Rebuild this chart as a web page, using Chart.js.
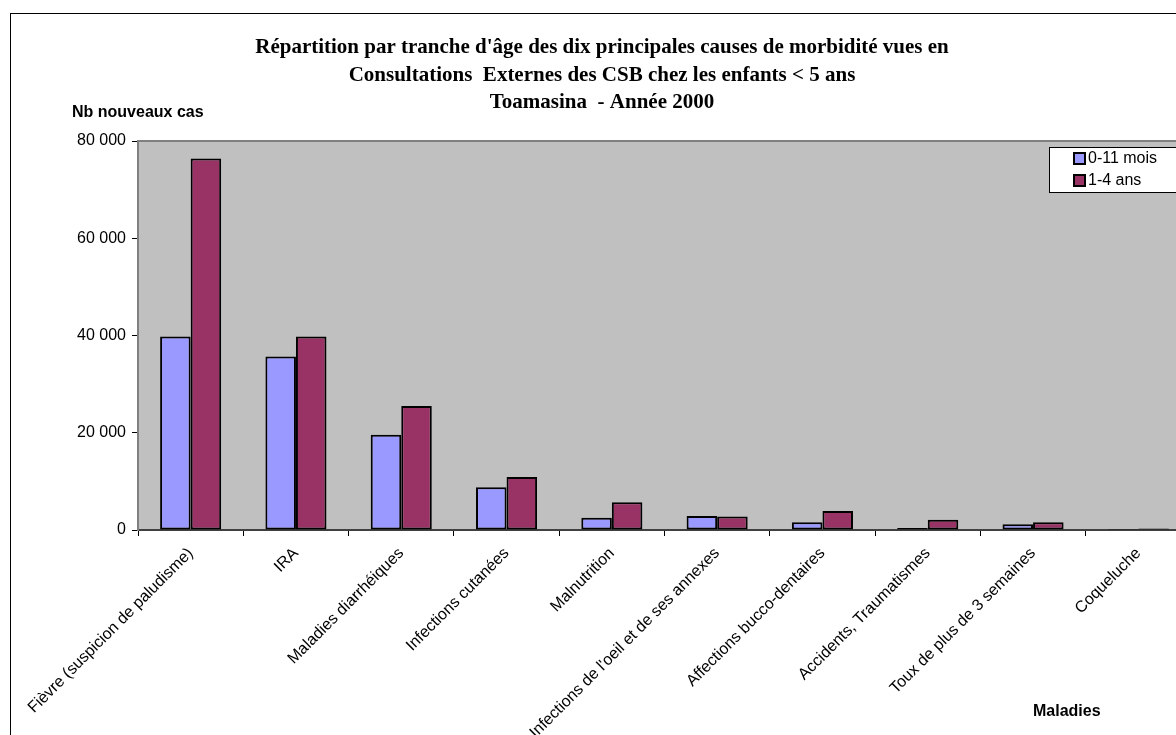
<!DOCTYPE html>
<html lang="fr">
<head>
<meta charset="utf-8">
<title>Morbidité des enfants &lt; 5 ans - Toamasina 2000</title>
<script src="https://cdn.jsdelivr.net/npm/chart.js@4.4.1/dist/chart.umd.min.js"></script>
<style>
    html, body { margin: 0; padding: 0; background: #fff; overflow: hidden; }
    #wrap { position: relative; width: 1200px; height: 735px; }
</style>
</head>
<body>
<div id="wrap"><canvas id="morbiditeChart" width="1200" height="735"></canvas></div>
<script>
// Données
const categories = [
    'Fièvre (suspicion de paludisme)',
    'IRA',
    'Maladies diarrhéiques',
    'Infections cutanées',
    'Malnutrition',
    "Infections de l'oeil et de ses annexes",
    'Affections bucco-dentaires',
    'Accidents, Traumatismes',
    'Toux de plus de 3 semaines',
    'Coqueluche'
];
const cas0a11mois = [39800, 35700, 19600, 8800, 2500, 2900, 1600, 400, 1200, 200];
const cas1a4ans = [76400, 39800, 25500, 10900, 5700, 2800, 3900, 2100, 1600, 300];
const yTicks = [0, 20000, 40000, 60000, 80000];

const titleLines = [
    "Répartition par tranche d'âge des dix principales causes de morbidité vues en",
    'Consultations  Externes des CSB chez les enfants < 5 ans',
    'Toamasina  - Année 2000'
];
const yAxisTitle = 'Nb nouveaux cas';
const xAxisTitle = 'Maladies';

const SANS = '"Liberation Sans", Arial, sans-serif';
const SERIF = '"Liberation Serif", "Times New Roman", serif';

Chart.defaults.font.family = SANS;
Chart.defaults.color = '#000';

function formatMilliers(v) {
    return String(v).replace(/\B(?=(\d{3})+(?!\d))/g, ' ');
}

// Fond gris, cadre, titres et légende façon Excel
const decorPlugin = {
    id: 'decor',
    beforeDraw(chart) {
        const { ctx, chartArea: a } = chart;
        ctx.save();
        ctx.fillStyle = '#fff';
        ctx.fillRect(0, 0, chart.width, chart.height);
        ctx.strokeStyle = '#000';
        ctx.lineWidth = 1;
        ctx.strokeRect(10.5, 13.5, chart.width, chart.height);
        ctx.fillStyle = '#c0c0c0';
        ctx.fillRect(a.left, a.top, a.right - a.left, a.bottom - a.top);
        ctx.strokeStyle = '#808080';
        ctx.lineWidth = 2;
        ctx.beginPath();
        ctx.moveTo(a.left, a.top);
        ctx.lineTo(a.right, a.top);
        ctx.stroke();
        ctx.restore();
    },
    afterDraw(chart) {
        const { ctx, chartArea: a } = chart;
        ctx.save();

        // titre
        ctx.fillStyle = '#000';
        ctx.font = 'bold 21px ' + SERIF;
        ctx.textAlign = 'center';
        ctx.textBaseline = 'middle';
        titleLines.forEach((line, i) => ctx.fillText(line, 602, 48 + i * 27.5));

        // titres des axes
        ctx.font = 'bold 16px ' + SANS;
        ctx.textAlign = 'left';
        ctx.fillText(yAxisTitle, 72, 113);
        ctx.fillText(xAxisTitle, 1033, 712);

        // légende
        const lx = a.right - 142, ly = a.top + 6;
        ctx.fillStyle = '#fff';
        ctx.fillRect(lx, ly, 160, 45);
        ctx.strokeStyle = '#000';
        ctx.lineWidth = 1;
        ctx.strokeRect(lx + 0.5, ly + 0.5, 160, 45);
        ctx.font = '16px ' + SANS;
        chart.data.datasets.forEach((ds, i) => {
            const cy = ly + 11 + i * 22;
            ctx.fillStyle = ds.backgroundColor;
            ctx.fillRect(lx + 25, cy - 5, 11, 11);
            ctx.lineWidth = 2;
            ctx.strokeRect(lx + 25, cy - 5, 11, 11);
            ctx.fillStyle = '#000';
            ctx.fillText(ds.label, lx + 39, cy + 1);
        });
        ctx.restore();
    }
};

new Chart(document.getElementById('morbiditeChart'), {
    type: 'bar',
    data: {
        labels: categories,
        datasets: [
            {
                label: '0-11 mois',
                data: cas0a11mois,
                backgroundColor: '#9999ff',
                borderColor: '#000',
                borderWidth: 2,
                borderSkipped: false,
                categoryPercentage: 0.58,
                barPercentage: 1
            },
            {
                label: '1-4 ans',
                data: cas1a4ans,
                backgroundColor: '#993366',
                borderColor: '#000',
                borderWidth: 2,
                borderSkipped: false,
                categoryPercentage: 0.58,
                barPercentage: 1
            }
        ]
    },
    options: {
        responsive: false,
        animation: false,
        devicePixelRatio: 1,
        layout: { padding: { top: 141, left: 0, right: 9, bottom: 0 } },
        plugins: {
            legend: { display: false },
            title: { display: false },
            tooltip: { enabled: false }
        },
        scales: {
            x: {
                grid: { display: true, drawOnChartArea: false, drawTicks: true, tickLength: 6, color: '#000', offset: true },
                border: { display: true, color: '#404040', width: 2 },
                ticks: { minRotation: 45, maxRotation: 45, autoSkip: false, font: { size: 16 }, padding: 8 },
                afterFit(s) { s.height = 205; s.paddingLeft = 0; s.paddingRight = 0; }
            },
            y: {
                min: 0,
                max: 80000,
                grid: { display: true, drawOnChartArea: false, drawTicks: true, tickLength: 6, color: '#000' },
                border: { display: true, color: '#808080', width: 2 },
                ticks: { font: { size: 16 }, padding: 6, callback: v => formatMilliers(v) },
                afterBuildTicks(s) { s.ticks = yTicks.map(v => ({ value: v })); },
                afterFit(s) { s.width = 138; }
            }
        }
    },
    plugins: [decorPlugin]
});
</script>
</body>
</html>
